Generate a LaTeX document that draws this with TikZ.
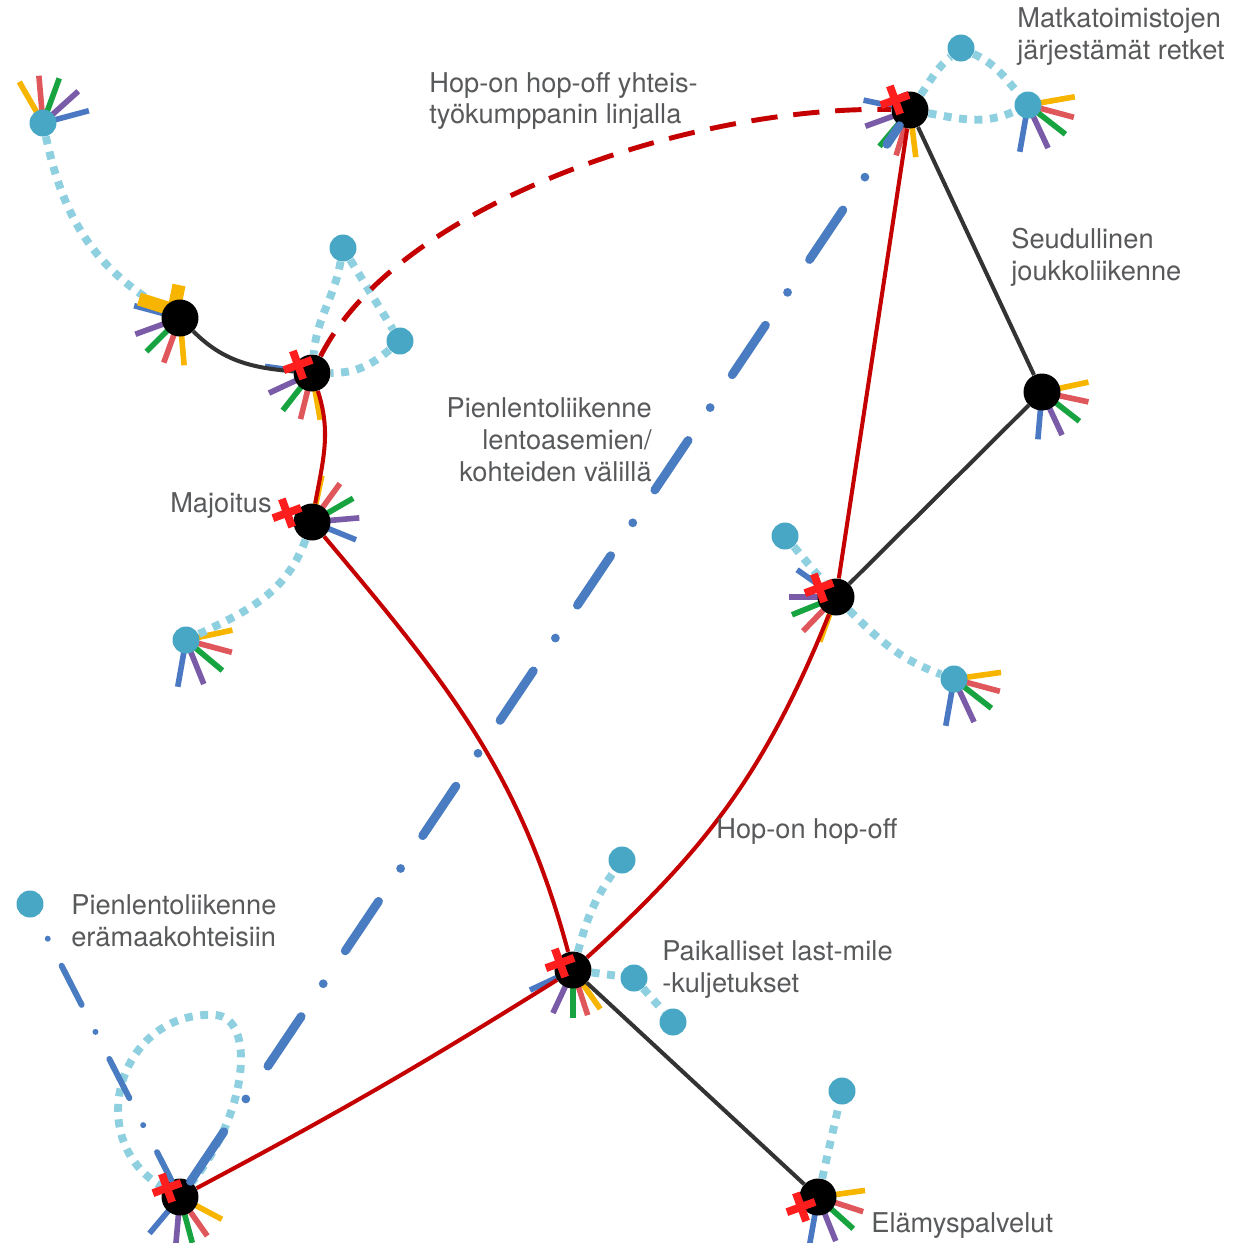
\documentclass[tikz,border=0pt]{standalone}
\usepackage{fontspec}
\setmainfont{TeX Gyre Heros}
\usetikzlibrary{calc,backgrounds}
\definecolor{hopred}{HTML}{C40000}
\definecolor{roadgray}{HTML}{333333}
\definecolor{stopblue}{HTML}{47A7C4}
\definecolor{walkblue}{HTML}{8ECFE0}
\definecolor{flyblue}{HTML}{4A7CC1}
\definecolor{crossred}{HTML}{FF1E1E}
\definecolor{labelgray}{HTML}{58595B}
\definecolor{fanyellow}{HTML}{F7B500}
\definecolor{fanred}{HTML}{E0575B}
\definecolor{fangreen}{HTML}{17A340}
\definecolor{fanpurple}{HTML}{7A5BA8}
\definecolor{fanblue}{HTML}{4A78C2}
\tikzset{
  hub/.style={circle, fill=black, inner sep=0pt, minimum size=0.74cm},
  stop/.style={circle, fill=stopblue, inner sep=0pt, minimum size=0.54cm},
  road/.style={line width=2.3pt, draw=roadgray},
  hop/.style={line width=2.3pt, draw=hopred},
  partner/.style={line width=2.8pt, draw=hopred, dash pattern=on 15pt off 9pt},
  walk/.style={line width=4.5pt, draw=walkblue, dash pattern=on 4.5pt off 4.3pt},
  flight/.style={line width=5pt, draw=flyblue, line cap=round, dash pattern=on 34pt off 22.5pt on 0pt off 22.5pt},
  wildflight/.style={line width=3.4pt, draw=flyblue, line cap=round, dash pattern=on 25pt off 17.3pt on 0pt off 17.3pt, dash phase=28pt},
  fanline/.style={line width=3.2pt},
  crossline/.style={line width=4.5pt, draw=crossred},
  lbl/.style={text=labelgray, font=\fontsize{15.5}{18.2}\selectfont, inner sep=0pt, align=left}
}
\newcommand{\fan}[6]{%
  \foreach \a/\c in {#2/fanyellow,#3/fanred,#4/fangreen,#5/fanpurple,#6/fanblue}
    \draw[fanline,\c] (#1.center) -- ++(\a:0.95cm);}
\newcommand{\xmark}[3]{%
  \draw[crossline] ($(#1)+(#2,#3)$) ++(20:0.3cm) -- ++(200:0.6cm)
    ($(#1)+(#2,#3)$) ++(110:0.3cm) -- ++(290:0.6cm);}
\begin{document}
\begin{tikzpicture}[x=0.02cm,y=-0.02cm]
\useasboundingbox (0,0) rectangle (1245,1242);

\node[hub] (a) at (180,318) {};
\node[hub] (b) at (312,373) {};
\node[hub] (c) at (312,522) {};
\node[hub] (d) at (910,110) {};
\node[hub] (e) at (1042,392) {};
\node[hub] (f) at (836,597) {};
\node[hub] (g) at (573,970) {};
\node[hub] (h) at (180,1197) {};
\node[hub] (i) at (818,1197) {};

\node[stop] (s1) at (43,123) {};
\node[stop] (s2) at (343,248) {};
\node[stop] (s3) at (400,341) {};
\node[stop] (s4) at (961,48) {};
\node[stop] (s5) at (1028,105) {};
\node[stop] (s6) at (186,640) {};
\node[stop] (s7) at (785,536) {};
\node[stop] (s8) at (954,679) {};
\node[stop] (s9) at (622,860) {};
\node[stop] (s10) at (634,978) {};
\node[stop] (s11) at (673,1022) {};
\node[stop] (s12) at (842,1091) {};
\node[stop] (s13) at (30,904) {};
\coordinate (looptop) at (215,1015);

\begin{scope}[on background layer]
\fan{s1}{120}{95}{70}{42}{15}
\fan{a}{275}{250}{225}{200}{165}
\fan{b}{280}{256}{232}{205}{172}
\fan{c}{78}{54}{30}{5}{-22}
\fan{d}{277}{253}{230}{200}{168}
\fan{s5}{10}{-15}{-38}{-65}{-100}
\fan{e}{12}{-12}{-38}{-65}{-95}
\fan{f}{250}{226}{202}{180}{145}
\fan{s6}{12}{-15}{-40}{-68}{-100}
\fan{s8}{8}{-15}{-38}{-65}{-100}
\fan{g}{305}{288}{270}{245}{205}
\fan{h}{-28}{-55}{-75}{-95}{-130}
\fan{i}{8}{-18}{-42}{-68}{-100}
\draw[walk] (s1) to[out=-78,in=150] (a);
\draw[line width=7.5pt, fanyellow] (139,299) -- (174,310) -- (179,285);
\end{scope}

\draw[walk] (s2) to[out=-100,in=85] (b);
\draw[walk] (s2) -- (s3);
\draw[walk] (s3) to[out=-140,in=0] (b);
\draw[walk] (d) to[out=55,in=-140] (s4);
\draw[walk] (s4) to[out=-25,in=130] (s5);
\draw[walk] (d) to[out=-10,in=-155] (s5);
\draw[walk] (c) to[out=-110,in=25] (s6);
\draw[walk] (s7) -- (f);
\draw[walk] (f) to[out=-45,in=160] (s8);
\draw[walk] (g) to[out=75,in=-125] (s9);
\draw[walk] (g) -- (s10);
\draw[walk] (s10) -- (s11);
\draw[walk] (i) -- (s12);
\draw[walk] (h) .. controls (80,1140) and (120,1010) .. (looptop) .. controls (255,1017) and (250,1110) .. (h);

\draw[road] (a) to[out=-45,in=175] (b);
\draw[road] (d) -- (e);
\draw[road] (e) -- (f);
\draw[road] (g) -- (i);

\draw[hop] (b) to[out=-72,in=80] (c);
\draw[hop] (c) to[out=-50,in=105] (g);
\draw[hop] (g) to[out=42,in=-112] (f);
\draw[hop] (f) -- (d);
\draw[hop] (h) to[out=28,in=-148] (g);
\draw[partner] (b) .. controls (400,200) and (700,105) .. (d);

\draw[flight] (h) -- (d);
\draw[wildflight] (s13) -- (h);

\xmark{b}{-14}{-8}
\xmark{c}{-25}{-9}
\xmark{d}{-15}{-10}
\xmark{f}{-17}{-9}
\xmark{g}{-13}{-7}
\xmark{h}{-13}{-9}
\xmark{i}{-17}{10}

\node[lbl, anchor=west] (tours) at (1017,37) {Matkatoimistojen\\järjestämät retket};
\node[lbl, anchor=west] (partnerlbl) at (429,101) {Hop-on hop-off yhteis-\\työkumppanin linjalla};
\node[lbl, anchor=west] (regional) at (1011,257) {Seudullinen\\joukkoliikenne};
\node[lbl, anchor=east, align=right] (airlbl) at (652,440) {Pienlentoliikenne\\lentoasemien/\\kohteiden välillä};
\node[lbl, anchor=east] (stay) at (272,506) {Majoitus};
\node[lbl, anchor=west] (hoplbl) at (716,831) {Hop-on hop-off};
\node[lbl, anchor=west] (wildlbl) at (71,921) {Pienlentoliikenne\\erämaakohteisiin};
\node[lbl, anchor=west] (lastmile) at (662,970) {Paikalliset last-mile\\-kuljetukset};
\node[lbl, anchor=west] (exper) at (871,1226) {Elämyspalvelut};
\end{tikzpicture}
\end{document}
